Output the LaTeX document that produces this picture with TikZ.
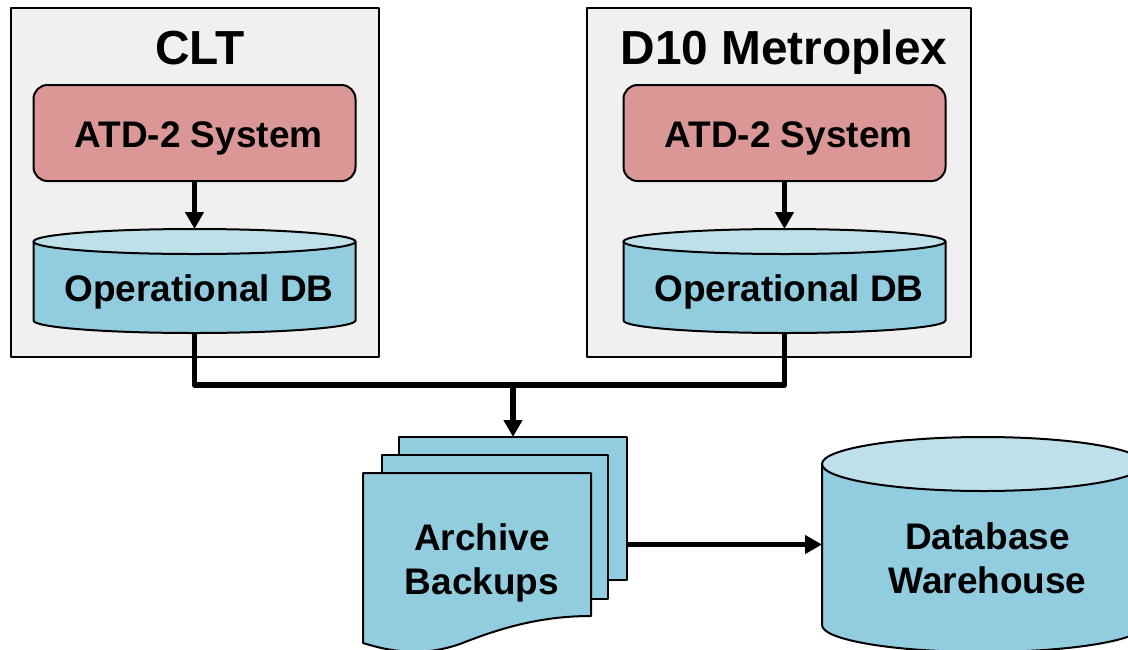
\documentclass[tikz,border=0pt]{standalone}
\usepackage{fontspec}
\setmainfont{Liberation Sans}
\usetikzlibrary{arrows.meta}
\definecolor{panelgray}{HTML}{F0F0F0}
\definecolor{sysred}{HTML}{DB9796}
\definecolor{dbblue}{HTML}{92CDDF}
\definecolor{dbtop}{HTML}{BDE0EB}
\tikzset{
  x=1pt,y=-1pt,
  outl/.style={draw=black,line width=2pt,line join=round},
  panel/.style={outl,fill=panelgray},
  sysbox/.style={outl,fill=sysred,rounded corners=14pt},
  title/.style={font=\fontsize{47.8}{50}\selectfont\bfseries,inner sep=0pt,anchor=base},
  lab/.style={font=\fontsize{37}{43.5}\selectfont\bfseries,inner sep=0pt,align=center},
  flow/.style={line width=5.6pt,line join=round,-{Triangle[width=18pt,length=17pt]}},
  flowplain/.style={line width=5.6pt,line join=round},
}
% name, left, right, top, bottom, ry
\newcommand{\dbcyl}[6]{%
  \pgfmathsetmacro{\cxx}{(#2+#3)/2}
  \pgfmathsetmacro{\krx}{0.5523*(#3-#2)/2}
  \pgfmathsetmacro{\kry}{0.5523*#6}
  \pgfmathsetmacro{\tc}{#4+#6}
  \pgfmathsetmacro{\bc}{#5-#6}
  \pgfmathsetmacro{\tf}{#4+2*#6}
  \draw[outl,fill=dbblue] (#2,\tc) -- (#2,\bc)
     .. controls (#2,\bc+\kry) and (\cxx-\krx,#5) .. (\cxx,#5)
     .. controls (\cxx+\krx,#5) and (#3,\bc+\kry) .. (#3,\bc) -- (#3,\tc) -- cycle;
  \draw[outl,fill=dbtop] (#2,\tc)
     .. controls (#2,\tc-\kry) and (\cxx-\krx,#4) .. (\cxx,#4)
     .. controls (\cxx+\krx,#4) and (#3,\tc-\kry) .. (#3,\tc)
     .. controls (#3,\tc+\kry) and (\cxx+\krx,\tf) .. (\cxx,\tf)
     .. controls (\cxx-\krx,\tf) and (#2,\tc+\kry) .. (#2,\tc) -- cycle;
  \pgfmathsetmacro{\myy}{(#4+#5)/2}
  \pgfmathsetmacro{\wdd}{#3-#2}
  \pgfmathsetmacro{\htt}{#5-#4}
  \node[inner sep=0pt,outer sep=0pt,minimum width=\wdd pt,minimum height=\htt pt] (#1) at (\cxx,\myy) {};
}
\begin{document}
\begin{tikzpicture}
\useasboundingbox (0,0) rectangle (1128,649);
% panels
\draw[panel] (11,8) rectangle (379,357);
\draw[panel] (587,8) rectangle (971,357);
\node[title] (clt) at (200,64) {CLT};
\node[title] (d10) at (784,64) {D10 Metroplex};
% systems
\node[sysbox,inner sep=0pt,outer sep=0pt,minimum width=322pt,minimum height=96pt] (atd1) at (194.5,133) {};
\node[sysbox,inner sep=0pt,outer sep=0pt,minimum width=322pt,minimum height=96pt] (atd2) at (784.5,133) {};
\node[lab,anchor=base] (atd1t) at (198.5,147) {ATD-2 System};
\node[lab,anchor=base] (atd2t) at (788.5,147) {ATD-2 System};
% operational DBs
\dbcyl{op1}{33.5}{355.5}{229}{333}{12.5}
\dbcyl{op2}{623.5}{945.5}{229}{333}{12.5}
\node[lab,anchor=base] (op1t) at (199,301) {Operational DB};
\node[lab,anchor=base] (op2t) at (789,301) {Operational DB};
% archive pages
\node[outl,fill=dbblue,inner sep=0pt,outer sep=0pt,minimum width=228pt,minimum height=143pt] (bk3) at (513,508.5) {};
\draw[outl,fill=dbblue] (381.5,455) rectangle (608,599);
\draw[outl,fill=dbblue] (363,473) -- (591,473) -- (591,616)
   .. controls (545,616) and (505,626) .. (460,644)
   .. controls (425,656) and (395,653) .. (363,643) -- cycle;
\node[lab] (bk1t) at (482,563) {Archive\\Backups};
% warehouse
\dbcyl{wh}{822}{1144}{437}{652}{27}
\node[lab] (wht) at (987.5,558.5) {Database\\Warehouse};
% connectors
\draw[flow] (atd1) -- (op1.north);
\draw[flow] (atd2) -- (op2.north);
\coordinate (junc) at (bk3.north |- 0,385);
\draw[flowplain] (op1.south) |- (junc) -| (op2.south);
\draw[flow] (junc) -- (bk3.north);
\draw[flow] (wh.west -| bk3.east) -- (wh.west);
\end{tikzpicture}
\end{document}
